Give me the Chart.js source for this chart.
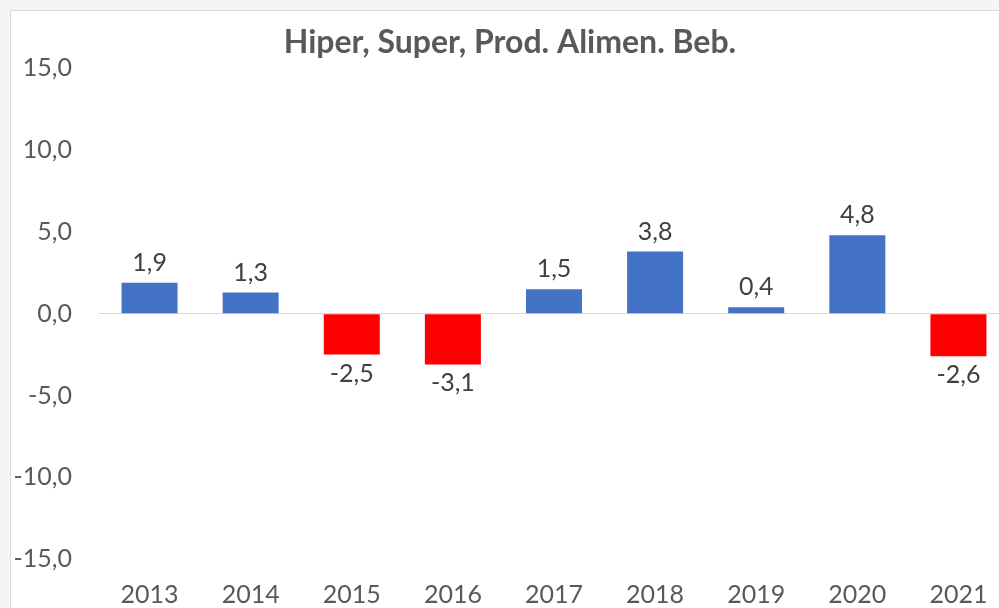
<!DOCTYPE html>
<html>
<head>
<meta charset="utf-8">
<script src="https://cdn.jsdelivr.net/npm/chart.js@4"></script>
<style>
  html, body { margin:0; padding:0; background:#f5f5f5; overflow:hidden; width:999px; height:608px; }
  #box { position:absolute; left:10px; top:10px; width:1100px; height:700px; background:#fff; border:1px solid #d9d9d9; }
  #chart { position:absolute; left:0; top:0; }
</style>
</head>
<body>
<div id="box"><canvas id="chart" width="1000" height="620"></canvas></div>
<script>
const anos = ['2013','2014','2015','2016','2017','2018','2019','2020','2021'];
const valores = [1.9, 1.3, -2.5, -3.1, 1.5, 3.8, 0.4, 4.8, -2.6];
const titulo = 'Hiper, Super, Prod. Alimen. Beb.';

const fmt = v => v.toFixed(1).replace('.', ',');

// rótulos por cima/baixo das barras
const rotulos = {
  id: 'rotulos',
  afterDatasetsDraw(chart){
    const ctx = chart.ctx;
    const meta = chart.getDatasetMeta(0);
    ctx.save();
    ctx.font = '25px Lato';
    ctx.fillStyle = '#404040';
    ctx.textAlign = 'center';
    ctx.textBaseline = 'middle';
    meta.data.forEach((bar, i)=>{
      const v = valores[i];
      const y = v >= 0 ? bar.y - 20 : bar.y + 19;
      ctx.fillText(fmt(v), bar.x, y);
    });
    ctx.restore();
  }
};

new Chart(document.getElementById('chart'), {
  type: 'bar',
  data: {
    labels: anos,
    datasets: [{
      data: valores,
      backgroundColor: valores.map(v => v >= 0 ? '#4472C4' : '#FF0000'),
      barPercentage: 0.554,
      categoryPercentage: 1
    }]
  },
  options: {
    responsive: false,
    animation: false,
    layout: { padding: { right: 2, bottom: 0 } },
    plugins: {
      legend: { display: false },
      tooltip: { enabled: false },
      title: {
        display: true,
        text: titulo,
        color: '#595959',
        font: { family: 'Lato', size: 32, weight: 'bold' },
        padding: { top: 12, bottom: 7 }
      }
    },
    scales: {
      x: {
        grid: { display: false, drawTicks: false },
        border: { display: false },
        ticks: { color: '#595959', font: { family: 'Lato', size: 25 }, padding: 21 }
      },
      y: {
        min: -15, max: 15,
        afterFit(s){ s.width = 88; },
        grid: {
          drawTicks: false,
          color: c => c.tick && c.tick.value === 0 ? '#d9d9d9' : 'rgba(0,0,0,0)'
        },
        border: { display: false },
        ticks: {
          stepSize: 5,
          color: '#595959',
          font: { family: 'Lato', size: 25 },
          padding: 27,
          callback: v => fmt(v)
        }
      }
    }
  },
  plugins: [rotulos]
});
</script>
</body>
</html>
